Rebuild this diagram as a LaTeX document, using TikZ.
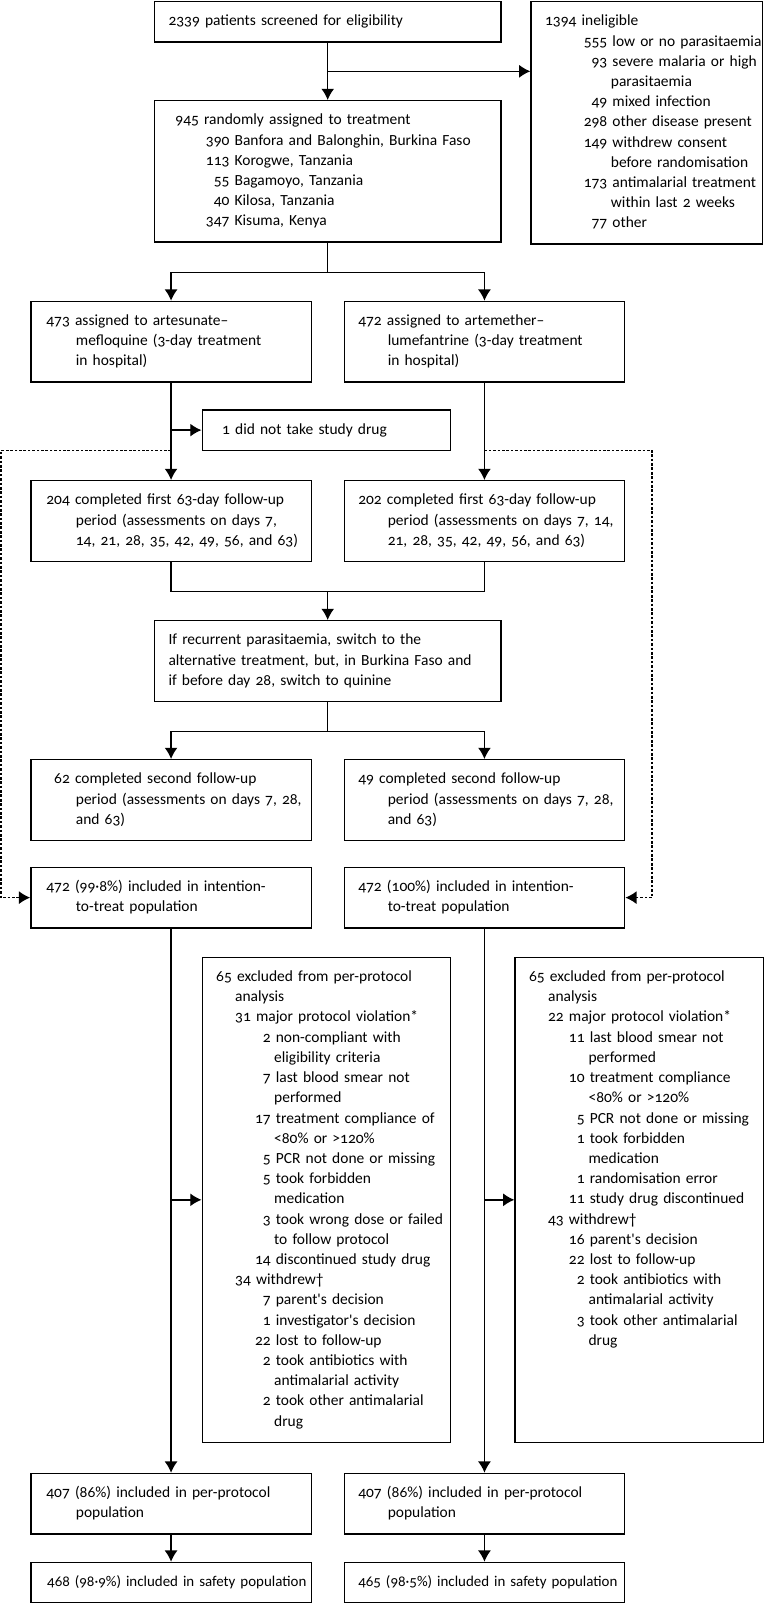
\documentclass[tikz,border=0pt]{standalone}
\usepackage{fontspec}
\setmainfont{Carlito}[Numbers=OldStyle]
\usetikzlibrary{arrows.meta, calc}

\newcommand{\numc}[2]{\makebox[#1cm][r]{#2}\ }
\newcommand{\indt}[1]{\hspace*{#1cm}}

\tikzset{
  box/.style={draw, anchor=north west, align=left,
    inner xsep=0.28cm, inner ysep=0.2cm,
    font=\fontsize{8.8}{11.5}\selectfont,
    execute at begin node={\rightskip=-0.4cm plus 1fil\relax\strut},
    execute at end node={\strut}},
  midbox/.style={box, text width=6.368cm},
  colbox/.style={box, text width=5.046cm},
  exbox/.style={box, text width=4.402cm},
  ittline/.style={->, dash pattern=on 1.5pt off 1pt}
}

\begin{document}
\begin{tikzpicture}[>={Latex[length=6.4pt,width=7.4pt]}, line width=0.8pt]
  \useasboundingbox (0,0) rectangle (15.26,-32.06);

  \node[midbox] (scr) at (3.076,-0.02) {2339 patients screened for eligibility};
  \node[box, text width=4.064cm] (inel) at (10.608,-0.02) {1394 ineligible\\
    \numc{1.244}{555}low or no parasitaemia\\
    \numc{1.244}{93}severe malaria or high\\
    \indt{1.316}parasitaemia\\
    \numc{1.244}{49}mixed infection\\
    \numc{1.244}{298}other disease present\\
    \numc{1.244}{149}withdrew consent\\
    \indt{1.316}before randomisation\\
    \numc{1.244}{173}antimalarial treatment\\
    \indt{1.316}within last 2 weeks\\
    \numc{1.244}{77}other};
  \node[midbox] (rand) at (3.076,-2.0) {\numc{0.61}{945}randomly assigned to treatment\\
    \numc{1.22}{390}Banfora and Balonghin, Burkina Faso\\
    \numc{1.22}{113}Korogwe, Tanzania\\
    \numc{1.22}{55}Bagamoyo, Tanzania\\
    \numc{1.22}{40}Kilosa, Tanzania\\
    \numc{1.22}{347}Kisuma, Kenya};

  \node[colbox] (artL) at (0.604,-6.014) {\numc{0.5}{473}assigned to artesunate–\\
    \indt{0.62}mefloquine (3-day treatment\\
    \indt{0.62}in hospital)};
  \node[colbox] (artR) at (6.872,-6.014) {472 assigned to artemether–\\
    \indt{0.59}lumefantrine (3-day treatment\\
    \indt{0.59}in hospital)};
  \node[exbox] (nodrug) at (4.03,-8.186) {\indt{0.12}1 did not take study drug};

  \node[colbox] (fuL1) at (0.604,-9.6) {\numc{0.5}{204}completed first 63-day follow-up\\
    \indt{0.62}period (assessments on days 7,\\
    \indt{0.62}14, 21, 28, 35, 42, 49, 56, and 63)};
  \node[colbox] (fuR1) at (6.872,-9.6) {202 completed first 63-day follow-up\\
    \indt{0.59}period (assessments on days 7, 14,\\
    \indt{0.59}21, 28, 35, 42, 49, 56, and 63)};
  \node[midbox] (switch) at (3.076,-12.4) {If recurrent parasitaemia, switch to the\\
    alternative treatment, but, in Burkina Faso and\\
    if before day 28, switch to quinine};
  \node[colbox] (fuL2) at (0.604,-15.18) {\numc{0.5}{62}completed second follow-up\\
    \indt{0.62}period (assessments on days 7, 28,\\
    \indt{0.62}and 63)};
  \node[colbox] (fuR2) at (6.872,-15.18) {49 completed second follow-up\\
    \indt{0.59}period (assessments on days 7, 28,\\
    \indt{0.59}and 63)};

  \node[colbox] (ittL) at (0.604,-17.334) {\numc{0.5}{472}(99·8\%) included in intention-\\
    \indt{0.62}to-treat population};
  \node[colbox] (ittR) at (6.872,-17.334) {472 (100\%) included in intention-\\
    \indt{0.59}to-treat population};

  \node[exbox] (exL) at (4.03,-19.134) {65 excluded from per-protocol\\
    \indt{0.38}analysis\\
    \indt{0.38}31 major protocol violation*\\
    \numc{1.09}{2}non-compliant with\\
    \indt{1.16}eligibility criteria\\
    \numc{1.09}{7}last blood smear not\\
    \indt{1.16}performed\\
    \numc{1.09}{17}treatment compliance of\\
    \indt{1.16}<80\% or >120\%\\
    \numc{1.09}{5}PCR not done or missing\\
    \numc{1.09}{5}took forbidden\\
    \indt{1.16}medication\\
    \numc{1.09}{3}took wrong dose or failed\\
    \indt{1.16}to follow protocol\\
    \numc{1.09}{14}discontinued study drug\\
    \indt{0.38}34 withdrew†\\
    \numc{1.09}{7}parent\textquotesingle s decision\\
    \numc{1.09}{1}investigator\textquotesingle s decision\\
    \numc{1.09}{22}lost to follow-up\\
    \numc{1.09}{2}took antibiotics with\\
    \indt{1.16}antimalarial activity\\
    \numc{1.09}{2}took other antimalarial\\
    \indt{1.16}drug};
  \node[exbox] (exR) at (10.288,-19.134) {65 excluded from per-protocol\\
    \indt{0.38}analysis\\
    \indt{0.38}22 major protocol violation*\\
    \numc{1.11}{11}last blood smear not\\
    \indt{1.19}performed\\
    \numc{1.11}{10}treatment compliance\\
    \indt{1.19}<80\% or >120\%\\
    \numc{1.11}{5}PCR not done or missing\\
    \numc{1.11}{1}took forbidden\\
    \indt{1.19}medication\\
    \numc{1.11}{1}randomisation error\\
    \numc{1.11}{11}study drug discontinued\\
    \indt{0.38}43 withdrew†\\
    \numc{1.11}{16}parent\textquotesingle s decision\\
    \numc{1.11}{22}lost to follow-up\\
    \numc{1.11}{2}took antibiotics with\\
    \indt{1.19}antimalarial activity\\
    \numc{1.11}{3}took other antimalarial\\
    \indt{1.19}drug\\
    \mbox{}\\ \mbox{}\\ \mbox{}\\ \mbox{}};

  \node[colbox] (ppL) at (0.604,-29.454) {\numc{0.5}{407}(86\%) included in per-protocol\\
    \indt{0.62}population};
  \node[colbox] (ppR) at (6.872,-29.454) {407 (86\%) included in per-protocol\\
    \indt{0.59}population};
  \node[colbox, font=\fontsize{8.5}{11.5}\selectfont] (safL) at (0.604,-31.234) {\numc{0.5}{468}(98·9\%) included in safety population};
  \node[colbox, font=\fontsize{8.5}{11.5}\selectfont] (safR) at (6.872,-31.234) {465 (98·5\%) included in safety population};

  \draw[->] (scr.south) -- (rand.north);
  \coordinate (brk) at ($(scr.south)!0.5!(rand.north)$);
  \draw[->] (brk) -- (brk -| inel.west);
  \draw[->] (rand.south) -- ++(0,-0.594) -| (artL.north);
  \draw[->] (rand.south) -- ++(0,-0.594) -| (artR.north);
  \draw[->] (artL.south) -- (fuL1.north);
  \draw[->] (artR.south) -- (fuR1.north);
  \draw[->] (artL.south |- nodrug.west) -- (nodrug.west);
  \draw (fuL1.south) -- ++(0,-0.594) -| (fuR1.south);
  \coordinate (mrg) at ($(fuL1.south)+(0,-0.594)$);
  \draw[->] (mrg -| switch.north) -- (switch.north);
  \draw[->] (switch.south) -- ++(0,-0.594) -| (fuL2.north);
  \draw[->] (switch.south) -- ++(0,-0.594) -| (fuR2.north);

  \coordinate (dotL) at (0.02,-9.01);
  \coordinate (dotR) at (13.04,-9.01);
  \draw[ittline] (artL.south |- dotL) -- (dotL) |- (ittL.west);
  \draw[ittline] (artR.south |- dotR) -- (dotR) |- (ittR.east);

  \draw[->] (ittL.south) -- (ppL.north);
  \draw[->] (ittR.south) -- (ppR.north);
  \draw[->] (ittL.south |- exL.west) -- (exL.west);
  \draw[->] (ittR.south |- exR.west) -- (exR.west);
  \draw[->] (ppL.south) -- (safL.north);
  \draw[->] (ppR.south) -- (safR.north);
\end{tikzpicture}
\end{document}
